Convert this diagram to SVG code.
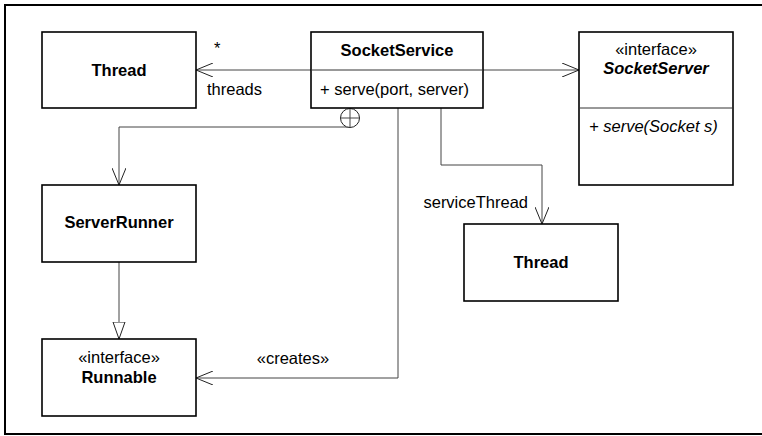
<svg xmlns="http://www.w3.org/2000/svg" width="762" height="436" viewBox="0 0 762 436">
<style>
.box{fill:#fff;stroke:#000;stroke-width:1.6}
.div{stroke:#333;stroke-width:1}
.ln{fill:none;stroke:#444;stroke-width:1}
.t{font-family:"Liberation Sans",Arial,sans-serif;font-size:16.5px;fill:#000}
.b{font-weight:bold}
.i{font-style:italic}
.c{text-anchor:middle}
</style>
<defs>
<marker id="open" viewBox="0 0 18 14" refX="17" refY="7" markerWidth="18" markerHeight="14" markerUnits="userSpaceOnUse" orient="auto">
<path d="M0,0 L17,7 L0,14" fill="none" stroke="#222" stroke-width="1"/>
</marker>
<marker id="tri" viewBox="0 0 18 14" refX="17" refY="7" markerWidth="18" markerHeight="14" markerUnits="userSpaceOnUse" orient="auto">
<path d="M0,1 L17,7 L0,13 Z" fill="#fff" stroke="#222" stroke-width="1"/>
</marker>
</defs>
<rect x="5" y="5" width="762" height="429" fill="#fff" stroke="#000" stroke-width="2"/>

<g id="connectors">
<path class="ln" d="M311,70 H196" marker-end="url(#open)"/>
<path class="ln" d="M483,70 H579" marker-end="url(#open)"/>
<path class="ln" d="M350,127 H119 V185" marker-end="url(#open)"/>
<circle cx="350" cy="118" r="9.5" fill="#fff" stroke="#222" stroke-width="1"/>
<path class="ln" d="M340.5,118 H359.5 M350,108.5 V127.5" stroke="#222"/>
<path class="ln" d="M119,262 V339" marker-end="url(#tri)"/>
<path class="ln" d="M398,108 V378 H196" marker-end="url(#open)"/>
<path class="ln" d="M441,108 V165 H542 V224" marker-end="url(#open)"/>
<text class="t" x="214" y="54">*</text>
<text class="t" x="207" y="95">threads</text>
<text class="t c" x="293" y="364">«creates»</text>
<text class="t" x="528" y="208" text-anchor="end">serviceThread</text>
</g>

<g id="thread1">
<rect class="box" x="42" y="32" width="154" height="76"/>
<text class="t b c" x="119" y="76">Thread</text>
</g>

<g id="socketService">
<rect class="box" x="311" y="32" width="172" height="76"/>
<line class="div" x1="311" y1="70" x2="483" y2="70"/>
<text class="t b c" x="397" y="56">SocketService</text>
<text class="t" x="320" y="95">+ serve(port, server)</text>
</g>

<g id="socketServer">
<rect class="box" x="579" y="32" width="154" height="153"/>
<line class="div" x1="579" y1="108" x2="733" y2="108"/>
<text class="t c" x="656" y="55">«interface»</text>
<text class="t b i c" x="656" y="74">SocketServer</text>
<text class="t i" x="589" y="132">+ serve(Socket s)</text>
</g>

<g id="serverRunner">
<rect class="box" x="42" y="185" width="154" height="77"/>
<text class="t b c" x="119" y="228">ServerRunner</text>
</g>

<g id="runnable">
<rect class="box" x="42" y="339" width="154" height="77"/>
<text class="t c" x="119" y="363">«interface»</text>
<text class="t b c" x="119" y="383">Runnable</text>
</g>

<g id="thread2">
<rect class="box" x="464" y="224" width="154" height="77"/>
<text class="t b c" x="541" y="268">Thread</text>
</g>
</svg>
